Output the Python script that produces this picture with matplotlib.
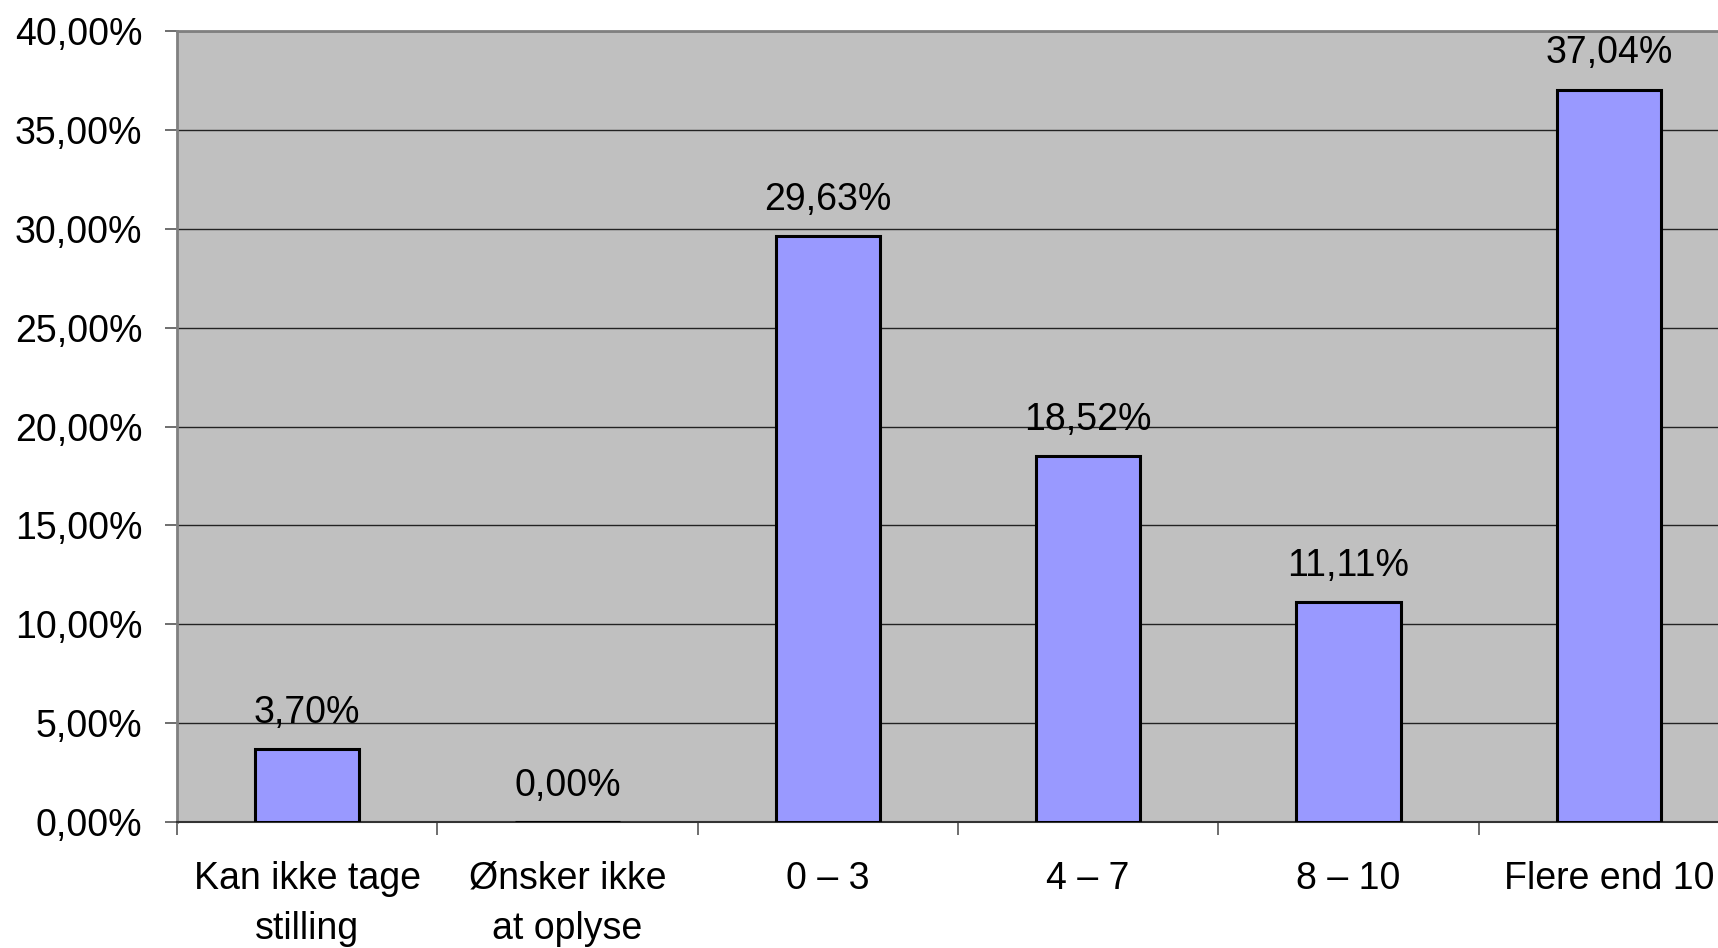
import matplotlib
matplotlib.use("Agg")
import matplotlib.pyplot as plt
from matplotlib.ticker import FuncFormatter

plt.rcParams['font.family'] = ['Liberation Sans', 'DejaVu Sans']

categories = ["Kan ikke tage\nstilling", "Ønsker ikke\nat oplyse", "0 – 3", "4 – 7", "8 – 10", "Flere end 10"]
values = [3.70, 0.00, 29.63, 18.52, 11.11, 37.04]
y_ticks = [0, 5, 10, 15, 20, 25, 30, 35, 40]


def pct(v):
    return f"{v:.2f}".replace('.', ',') + '%'


fig = plt.figure(figsize=(17.18, 9.48), dpi=100)
# plot area runs slightly past the right edge of the canvas
ax = fig.add_axes([177 / 1718, 126 / 948, 1562 / 1718, 791 / 948])
ax.set_facecolor('#C0C0C0')

x = list(range(len(categories)))
ax.bar(x, values, width=0.40, color='#9999FF', edgecolor='black', linewidth=2.2, zorder=3)

for xi, v in zip(x, values):
    ax.annotate(pct(v), (xi, v), xytext=(0, 13), textcoords='offset points',
                ha='center', va='bottom', fontsize=27, zorder=4)

ax.set_xlim(-0.5, len(categories) - 0.5)
ax.set_ylim(0, 40)
ax.set_yticks(y_ticks)
ax.yaxis.set_major_formatter(FuncFormatter(lambda v, _: pct(v)))
ax.yaxis.grid(True, color='#222222', linewidth=1.0, zorder=1)
ax.set_axisbelow(True)

# category boundaries carry the x tick marks, labels sit at the centres
ax.set_xticks([i + 0.5 for i in range(-1, len(categories))])
ax.set_xticklabels([])
ax.set_xticks(x, minor=True)
ax.set_xticklabels(categories, minor=True, fontsize=27, linespacing=1.5)
ax.tick_params(axis='x', which='minor', length=0, pad=28)
ax.tick_params(axis='x', which='major', length=9, width=1.2, color='#555555', direction='out')
ax.tick_params(axis='y', length=9, width=1.2, color='#555555', direction='out', pad=16, labelsize=27)

for side in ('top', 'left'):
    ax.spines[side].set_color('#808080')
    ax.spines[side].set_linewidth(2)
ax.spines['bottom'].set_color('#333333')
ax.spines['bottom'].set_linewidth(1.5)
ax.spines['right'].set_visible(False)

fig.savefig('out.png', dpi=100)
